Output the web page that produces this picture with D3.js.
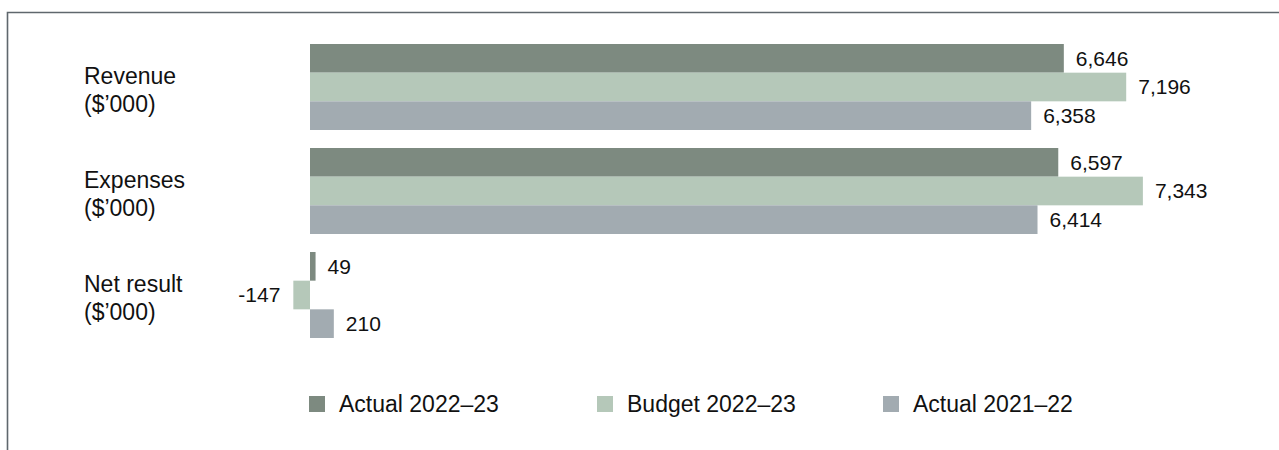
<!DOCTYPE html>
<html>
<head>
<meta charset="utf-8">
<script src="https://cdn.jsdelivr.net/npm/d3@7"></script>
<style>
  html, body { margin: 0; padding: 0; background: #ffffff; }
  svg { display: block; font-family: "Liberation Sans", Arial, sans-serif; }
</style>
</head>
<body>
<svg id="chart" width="1279" height="450"></svg>
<script>
// Financial summary: three measures, three series each
const categories = ["Revenue", "Expenses", "Net result"];
const categoryUnits = ["($\u2019000)", "($\u2019000)", "($\u2019000)"];
const seriesNames = ["Actual 2022\u201323", "Budget 2022\u201323", "Actual 2021\u201322"];
const actual2023 = [6646, 6597, 49];
const budget2023 = [7196, 7343, -147];
const actual2022 = [6358, 6414, 210];
const seriesColors = ["#7d8a80", "#b5c8b9", "#a2abb1"];

const seriesValues = [actual2023, budget2023, actual2022];
const rows = categories.map((c, i) => ({
  category: c,
  unit: categoryUnits[i],
  values: seriesNames.map((s, j) => ({ series: s, value: seriesValues[j][i], color: seriesColors[j] }))
}));

const svg = d3.select("#chart");
// thousands separator with a plain hyphen for negatives
const fmt = d3.formatLocale({ decimal: ".", thousands: ",", grouping: [3], currency: ["$", ""], minus: "-" }).format(",");

// frame (top and left edges only are visible)
svg.append("path")
  .attr("d", "M7.5,450 L7.5,12.5 L1279,12.5")
  .attr("fill", "none")
  .attr("stroke", "#5f676d")
  .attr("stroke-width", 1.6);

const x = d3.scaleLinear().domain([0, 8000]).range([310, 1217.4]);
const y = d3.scaleBand().domain(categories).range([44, 338]).paddingInner(18 / 104).paddingOuter(0);
const ySeries = d3.scaleBand().domain(seriesNames).range([0, y.bandwidth()]).padding(0);

const groups = svg.append("g").selectAll("g.group")
  .data(rows)
  .join("g")
  .attr("class", "group")
  .attr("transform", d => `translate(0,${y(d.category)})`);

groups.selectAll("rect")
  .data(d => d.values)
  .join("rect")
  .attr("x", d => Math.min(x(0), x(d.value)))
  .attr("y", d => ySeries(d.series))
  .attr("width", d => Math.abs(x(d.value) - x(0)))
  .attr("height", ySeries.bandwidth())
  .attr("fill", d => d.color);

groups.selectAll("text.value")
  .data(d => d.values)
  .join("text")
  .attr("class", "value")
  .attr("x", d => d.value >= 0 ? x(d.value) + 12 : x(d.value) - 13)
  .attr("y", d => ySeries(d.series) + ySeries.bandwidth() / 2)
  .attr("dy", "0.35em")
  .attr("text-anchor", d => d.value >= 0 ? "start" : "end")
  .attr("font-size", 21)
  .attr("fill", "#111")
  .text(d => fmt(d.value));

// category labels, two lines
const catLabels = groups.append("text")
  .attr("x", 84)
  .attr("font-size", 23)
  .attr("fill", "#111");
catLabels.append("tspan")
  .attr("x", 84)
  .attr("y", y.bandwidth() / 2 - 3)
  .text(d => d.category);
catLabels.append("tspan")
  .attr("x", 84)
  .attr("y", y.bandwidth() / 2 + 25)
  .text(d => d.unit);

// legend
const legend = d3.scaleOrdinal().domain(seriesNames).range([309, 597, 883]);
const legendItems = svg.append("g").selectAll("g")
  .data(seriesNames)
  .join("g")
  .attr("transform", d => `translate(${legend(d)},396)`);
legendItems.append("rect")
  .attr("width", 16)
  .attr("height", 16)
  .attr("fill", (d, i) => seriesColors[i]);
legendItems.append("text")
  .attr("x", 30)
  .attr("y", 16)
  .attr("font-size", 23)
  .attr("fill", "#111")
  .text(d => d);
</script>
</body>
</html>
